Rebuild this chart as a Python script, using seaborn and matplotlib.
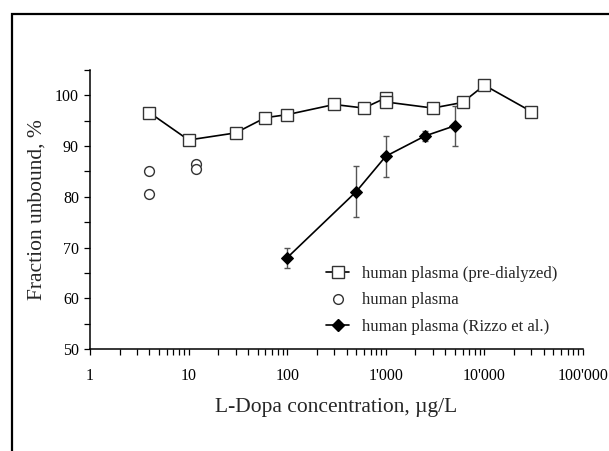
import matplotlib
matplotlib.use("Agg")
import matplotlib.pyplot as plt
import matplotlib.ticker as mticker
from matplotlib.patches import Rectangle
from matplotlib.lines import Line2D
import seaborn as sns
import pandas as pd
import numpy as np

# --- data ---
predial_x = [4, 10, 30, 60, 100, 300, 600, 1000, 1000, 3000, 6000, 10000, 30000]
predial_y = [96.6, 91.2, 92.6, 95.6, 96.2, 98.2, 97.5, 99.5, 98.7, 97.5, 98.6, 102.0, 96.8]

plasma_x = [4, 4, 12, 12]
plasma_y = [85.1, 80.6, 86.4, 85.5]

rizzo_x = [100, 500, 1000, 2500, 5000]
rizzo_y = [68, 81, 88, 92, 94]
rizzo_err = [2, 5, 4, 1, 4]

labels = ["human plasma (pre-dialyzed)", "human plasma", "human plasma (Rizzo et al.)"]
xlabel = "L-Dopa concentration, \u00b5g/L"
ylabel = "Fraction unbound, %"

df_pre = pd.DataFrame({"x": predial_x, "y": predial_y})
df_pl = pd.DataFrame({"x": plasma_x, "y": plasma_y})
df_rz = pd.DataFrame({"x": rizzo_x, "y": rizzo_y, "err": rizzo_err})

sns.set_theme(style="ticks")
plt.rcParams["font.family"] = ["Liberation Serif", "DejaVu Serif"]

fig = plt.figure(figsize=(6.09, 4.51), dpi=100)
ax = fig.add_axes([90 / 609, 1 - 349 / 451, (583 - 90) / 609, (349 - 70) / 451])

# error bars (Rizzo)
ax.errorbar(df_rz["x"], df_rz["y"], yerr=df_rz["err"], fmt="none", ecolor="#555555",
            elinewidth=1.0, capsize=2.5, capthick=1.0, zorder=2)

sns.lineplot(data=df_rz, x="x", y="y", ax=ax, color="black", linewidth=1.2,
             marker="D", markersize=6.5, markerfacecolor="black", markeredgecolor="black",
             estimator=None, sort=False, label=labels[2], zorder=3)

sns.lineplot(data=df_pre, x="x", y="y", ax=ax, color="black", linewidth=1.2,
             marker="s", markersize=8, markerfacecolor="white", markeredgecolor="#333333",
             markeredgewidth=1.0, estimator=None, sort=False, label=labels[0], zorder=4)

sns.scatterplot(data=df_pl, x="x", y="y", ax=ax, marker="o", s=50, facecolor="white",
                edgecolor="#333333", linewidth=1.0, label=labels[1], zorder=4)

ax.set_xscale("log")
ax.set_xlim(1, 100000)
ax.set_ylim(50, 105)

ax.xaxis.set_major_locator(mticker.LogLocator(base=10, numticks=10))
ax.xaxis.set_minor_locator(mticker.LogLocator(base=10, subs=np.arange(2, 10), numticks=20))
ax.xaxis.set_minor_formatter(mticker.NullFormatter())
ax.xaxis.set_major_formatter(mticker.FuncFormatter(lambda v, p: f"{int(round(v)):,}".replace(",", "'")))
ax.yaxis.set_major_locator(mticker.MultipleLocator(10))
ax.yaxis.set_minor_locator(mticker.MultipleLocator(5))

for s in ["top", "right"]:
    ax.spines[s].set_visible(False)
for s in ["left", "bottom"]:
    ax.spines[s].set_linewidth(1.1)
    ax.spines[s].set_color("black")

ax.tick_params(axis="both", which="both", direction="out", length=4, width=0.9, color="black",
               labelsize=11.5, labelcolor="black")
ax.tick_params(axis="x", which="major", pad=10)
ax.tick_params(axis="y", which="major", pad=4)

ax.set_xlabel(xlabel, fontsize=15.5, labelpad=10)
ax.set_ylabel(ylabel, fontsize=15.5, labelpad=6)

# legend
handles = [
    Line2D([], [], color="black", linewidth=1.2, marker="s", markersize=8,
           markerfacecolor="white", markeredgecolor="#333333", markeredgewidth=1.0),
    Line2D([], [], linestyle="none", marker="o", markersize=7,
           markerfacecolor="white", markeredgecolor="#333333", markeredgewidth=1.0),
    Line2D([], [], color="black", linewidth=1.2, marker="D", markersize=6.5,
           markerfacecolor="black", markeredgecolor="black"),
]
ax.legend(handles, labels, frameon=False, loc="upper left",
          bbox_to_anchor=(326 / 609, 1 - 266 / 451), bbox_transform=fig.transFigure,
          fontsize=12, handlelength=1.4, handletextpad=0.75, labelspacing=0.62,
          borderpad=0, borderaxespad=0)

# outer frame (extends past right/bottom edges)
fig.patches.append(Rectangle((12 / 609, -0.05), 1.1, 1 - 14 / 451 + 0.05,
                             transform=fig.transFigure, fill=False,
                             edgecolor="black", linewidth=1.6, zorder=0))

fig.savefig("out.png", dpi=100)
